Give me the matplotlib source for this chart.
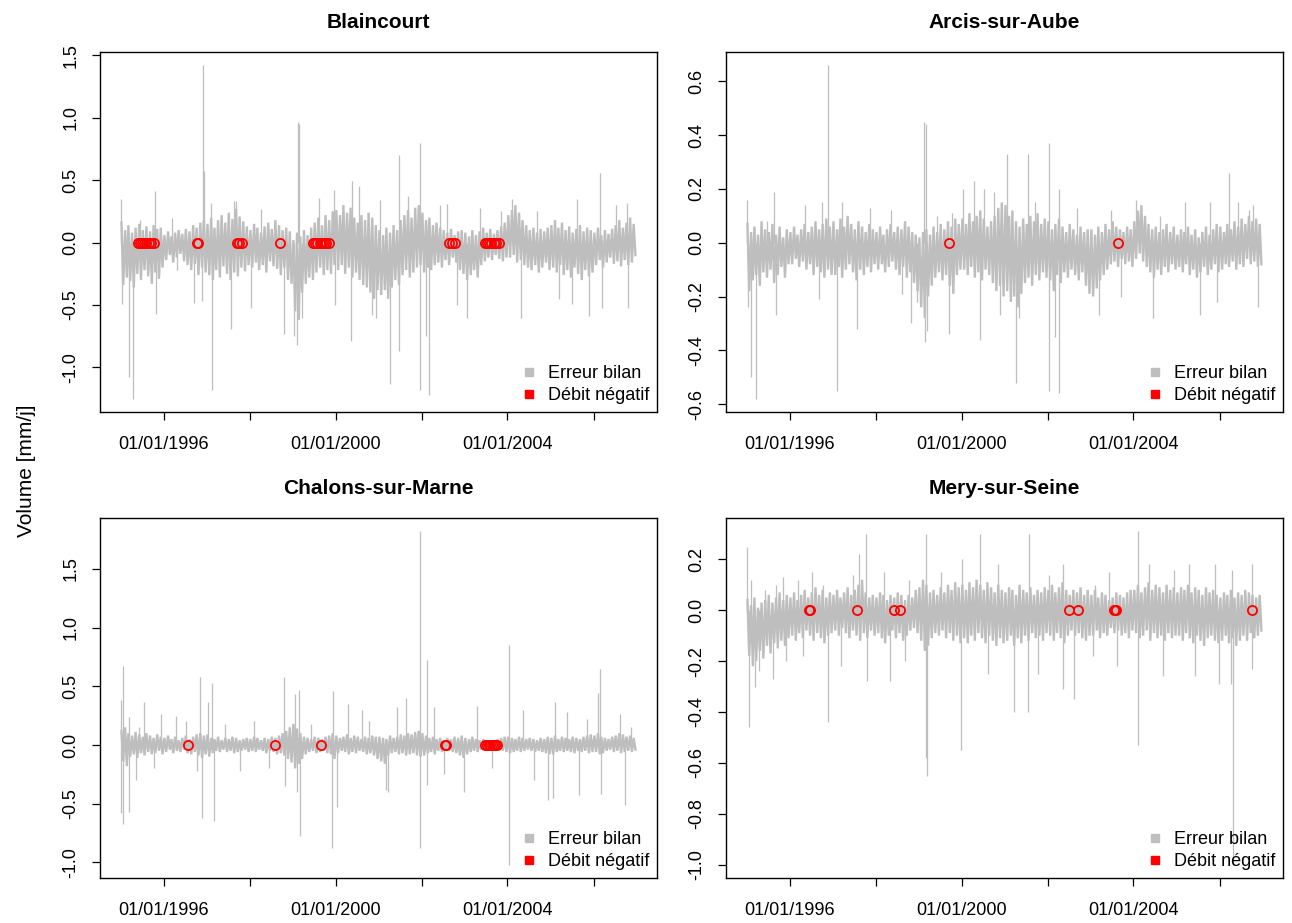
import numpy as np
import pandas as pd
import matplotlib
matplotlib.use("Agg")
import matplotlib.pyplot as plt
from matplotlib.lines import Line2D

plt.rcParams['font.family'] = ['Liberation Sans', 'DejaVu Sans']
plt.rcParams['axes.unicode_minus'] = False

# ---------------------------------------------------------------------------
# Daily balance error series, summarised as monthly upper / lower readings
# (12 values per year, 1995 -> 2006), plus isolated single-day peaks and the
# days with a negative discharge.
# ---------------------------------------------------------------------------
series_start = "1995-01-01"
series_end = "2006-12-31"
first_year = 1995

stations = ["Blaincourt", "Arcis-sur-Aube", "Chalons-sur-Marne", "Mery-sur-Seine"]

blaincourt_hi = [
    0.16, 0.10, 0.14, 0.08, 0.12, 0.15, 0.10, 0.13, 0.09, 0.14, 0.11, 0.12,
    0.06, 0.09, 0.05, 0.08, 0.10, 0.07, 0.11, 0.09, 0.14, 0.12, 0.16, 0.18,
    0.15, 0.20, 0.12, 0.18, 0.22, 0.16, 0.24, 0.19, 0.27, 0.21, 0.17, 0.13,
    0.10, 0.15, 0.12, 0.08, 0.13, 0.16, 0.11, 0.18, 0.14, 0.10, 0.12, 0.09,
    0.02, 0.08, 0.05, 0.10, 0.06, 0.12, 0.16, 0.20, 0.14, 0.22, 0.18, 0.25,
    0.26, 0.22, 0.30, 0.24, 0.28, 0.20, 0.16, 0.22, 0.18, 0.24, 0.20, 0.14,
    0.10, 0.06, 0.12, 0.08, 0.14, 0.10, 0.18, 0.22, 0.26, 0.20, 0.28, 0.30,
    0.24, 0.18, 0.20, 0.14, 0.16, 0.12, 0.10, 0.08, 0.11, 0.06, 0.09, 0.10,
    0.08, 0.05, 0.10, 0.06, 0.09, 0.12, 0.08, 0.11, 0.07, 0.10, 0.13, 0.16,
    0.22, 0.26, 0.30, 0.24, 0.18, 0.14, 0.10, 0.12, 0.08, 0.11, 0.09, 0.12,
    0.14, 0.18, 0.12, 0.16, 0.10, 0.13, 0.08, 0.11, 0.14, 0.09, 0.12, 0.10,
    0.08, 0.12, 0.06, 0.10, 0.07, 0.11, 0.14, 0.18, 0.12, 0.16, 0.20, 0.15,
]
blaincourt_lo = [
    -0.34, -0.28, -0.31, -0.36, -0.25, -0.30, -0.22, -0.27, -0.33, -0.24, -0.29, -0.20,
    -0.14, -0.10, -0.16, -0.12, -0.09, -0.15, -0.18, -0.22, -0.17, -0.26, -0.20, -0.24,
    -0.26, -0.30, -0.22, -0.28, -0.19, -0.25, -0.30, -0.24, -0.27, -0.20, -0.23, -0.18,
    -0.20, -0.16, -0.22, -0.18, -0.24, -0.15, -0.19, -0.21, -0.26, -0.20, -0.30, -0.33,
    -0.55, -0.62, -0.40, -0.33, -0.28, -0.30, -0.24, -0.20, -0.26, -0.22, -0.25, -0.18,
    -0.22, -0.18, -0.25, -0.20, -0.28, -0.24, -0.30, -0.34, -0.36, -0.40, -0.45, -0.38,
    -0.42, -0.38, -0.45, -0.36, -0.30, -0.34, -0.26, -0.22, -0.28, -0.24, -0.20, -0.18,
    -0.24, -0.20, -0.22, -0.18, -0.16, -0.20, -0.14, -0.18, -0.12, -0.16, -0.22, -0.25,
    -0.30, -0.26, -0.22, -0.28, -0.18, -0.15, -0.12, -0.14, -0.10, -0.13, -0.15, -0.12,
    -0.12, -0.10, -0.16, -0.14, -0.18, -0.20, -0.22, -0.18, -0.24, -0.20, -0.16, -0.22,
    -0.20, -0.24, -0.18, -0.26, -0.22, -0.28, -0.20, -0.25, -0.30, -0.22, -0.27, -0.24,
    -0.18, -0.14, -0.20, -0.16, -0.12, -0.17, -0.15, -0.19, -0.14, -0.18, -0.16, -0.10,
]
blaincourt_peak_dates = [
    "1995-01-05", "1995-01-10", "1995-03-10", "1995-04-20", "1995-06-15", "1995-10-20",
    "1995-10-25", "1996-03-10", "1996-04-20", "1996-09-15", "1996-12-01", "1996-12-12",
    "1996-11-20", "1997-02-18", "1997-02-05", "1997-07-25", "1997-08-20", "1997-09-10",
    "1998-01-15", "1998-04-10", "1998-10-20", "1999-01-15", "1999-02-10", "1999-02-15",
    "1999-02-25", "1999-03-20", "1999-08-15", "1999-12-20", "1999-12-25", "2000-05-20",
    "2000-05-15", "2000-07-15", "2000-11-10", "2000-12-10", "2001-01-10", "2001-04-10",
    "2001-06-25", "2001-06-20", "2001-09-10", "2001-12-20", "2001-12-18", "2002-02-05",
    "2002-03-05", "2002-06-10", "2002-10-25", "2002-08-05", "2003-01-20", "2003-05-10",
    "2003-11-10", "2004-02-10", "2004-04-25", "2004-09-10", "2005-03-10", "2005-07-01",
    "2005-08-10", "2005-11-20", "2006-03-01", "2006-03-10", "2006-07-10", "2006-10-15",
    "2006-10-20",
]
blaincourt_peak_vals = [
    0.35, -0.49, -1.08, -1.25, 0.18, 0.41,
    -0.57, 0.20, -0.22, -0.48, 1.42, 0.57,
    -0.47, -1.18, 0.32, -0.69, 0.33, 0.33,
    -0.52, 0.27, -0.73, -0.75, -0.82, 0.97,
    0.95, -0.60, 0.36, 0.42, -0.50, 0.49,
    -0.79, 0.45, -0.58, -0.60, 0.34, -1.13,
    0.70, -0.87, 0.37, 0.80, -1.18, -0.75,
    -1.22, 0.30, -0.50, 0.31, -0.60, 0.28,
    0.25, 0.35, -0.60, 0.25, -0.45, -0.49,
    0.35, -0.59, 0.56, -0.52, 0.30, 0.32,
    -0.52,
]
blaincourt_neg_dates = [
    "1995-05-27", "1995-06-14", "1995-07-02", "1995-07-20", "1995-08-08", "1995-08-26",
    "1995-09-20", "1995-10-12", "1996-10-12", "1996-10-23", "1997-09-16", "1997-10-04",
    "1997-10-26", "1998-09-13", "1999-06-25", "1999-07-13", "1999-07-31", "1999-08-18",
    "1999-09-06", "1999-09-24", "1999-10-12", "1999-11-03", "2002-08-22", "2002-09-13",
    "2002-10-12", "2003-06-21", "2003-07-09", "2003-07-27", "2003-08-15", "2003-09-06",
    "2003-09-28", "2003-10-20",
]

arcis_hi = [
    0.07, 0.04, 0.06, 0.03, 0.08, 0.05, 0.04, 0.07, 0.03, 0.06, 0.02, 0.05,
    0.04, 0.06, 0.03, 0.05, 0.07, 0.04, 0.06, 0.08, 0.05, 0.07, 0.09, 0.06,
    0.08, 0.05, 0.09, 0.06, 0.10, 0.07, 0.05, 0.08, 0.06, 0.04, 0.07, 0.05,
    0.04, 0.06, 0.03, 0.05, 0.07, 0.04, 0.06, 0.05, 0.08, 0.06, 0.04, 0.03,
    0.02, 0.04, 0.05, 0.03, 0.06, 0.04, 0.07, 0.05, 0.08, 0.06, 0.09, 0.07,
    0.09, 0.07, 0.11, 0.08, 0.10, 0.12, 0.09, 0.06, 0.08, 0.10, 0.13, 0.15,
    0.14, 0.10, 0.12, 0.08, 0.06, 0.09, 0.07, 0.10, 0.08, 0.11, 0.07, 0.09,
    0.08, 0.05, 0.07, 0.09, 0.06, 0.04, 0.07, 0.05, 0.03, 0.06, 0.04, 0.05,
    0.05, 0.03, 0.06, 0.04, 0.07, 0.05, 0.08, 0.06, 0.05, 0.04, 0.06, 0.05,
    0.08, 0.12, 0.14, 0.10, 0.07, 0.05, 0.06, 0.04, 0.05, 0.07, 0.04, 0.06,
    0.03, 0.05, 0.04, 0.06, 0.03, 0.05, 0.02, 0.04, 0.06, 0.03, 0.05, 0.07,
    0.06, 0.04, 0.07, 0.05, 0.08, 0.06, 0.09, 0.07, 0.10, 0.08, 0.09, 0.07,
]
arcis_lo = [
    -0.18, -0.14, -0.12, -0.16, -0.11, -0.13, -0.10, -0.15, -0.12, -0.09, -0.13, -0.08,
    -0.08, -0.06, -0.09, -0.07, -0.10, -0.08, -0.12, -0.09, -0.11, -0.13, -0.10, -0.12,
    -0.12, -0.09, -0.13, -0.10, -0.08, -0.11, -0.14, -0.10, -0.12, -0.09, -0.11, -0.08,
    -0.10, -0.08, -0.11, -0.09, -0.07, -0.10, -0.12, -0.09, -0.13, -0.11, -0.15, -0.18,
    -0.24, -0.28, -0.20, -0.16, -0.13, -0.11, -0.14, -0.12, -0.16, -0.19, -0.12, -0.10,
    -0.10, -0.12, -0.09, -0.13, -0.11, -0.14, -0.10, -0.12, -0.15, -0.18, -0.16, -0.20,
    -0.18, -0.22, -0.20, -0.24, -0.19, -0.15, -0.13, -0.16, -0.12, -0.14, -0.11, -0.13,
    -0.14, -0.18, -0.12, -0.15, -0.11, -0.13, -0.10, -0.12, -0.14, -0.11, -0.16, -0.19,
    -0.20, -0.17, -0.14, -0.12, -0.10, -0.08, -0.07, -0.09, -0.06, -0.08, -0.07, -0.09,
    -0.06, -0.04, -0.07, -0.09, -0.11, -0.13, -0.10, -0.12, -0.09, -0.11, -0.08, -0.10,
    -0.09, -0.11, -0.08, -0.12, -0.10, -0.13, -0.11, -0.09, -0.12, -0.10, -0.08, -0.11,
    -0.10, -0.08, -0.09, -0.07, -0.10, -0.08, -0.09, -0.06, -0.08, -0.07, -0.09, -0.08,
]
arcis_peak_dates = [
    "1995-01-05", "1995-01-10", "1995-02-05", "1995-03-25", "1995-06-20", "1995-08-20",
    "1995-09-05", "1996-05-10", "1996-09-10", "1996-11-20", "1996-10-01", "1997-02-05",
    "1997-03-20", "1997-07-25", "1997-11-10", "1998-05-10", "1998-08-10", "1998-10-25",
    "1998-12-15", "1999-02-20", "1999-03-01", "1999-02-25", "1999-03-10", "1999-06-10",
    "1999-09-20", "1999-10-10", "2000-01-15", "2000-04-20", "2000-06-10", "2000-07-10",
    "2000-10-05", "2000-11-20", "2001-01-20", "2001-04-10", "2001-05-05", "2001-07-15",
    "2001-09-20", "2002-01-10", "2002-01-12", "2002-04-05", "2002-03-01", "2002-04-10",
    "2002-09-10", "2003-03-15", "2003-06-20", "2003-09-15", "2004-01-20", "2004-06-15",
    "2004-08-10", "2005-03-10", "2005-07-20", "2005-10-10", "2005-12-10", "2006-03-25",
    "2006-06-10", "2006-09-10", "2006-11-20", "2006-10-15",
]
arcis_peak_vals = [
    0.16, -0.24, -0.50, -0.58, 0.08, 0.19,
    -0.27, 0.14, -0.21, 0.66, 0.15, -0.55,
    0.15, -0.32, 0.13, 0.12, -0.19, -0.30,
    -0.22, 0.45, 0.44, -0.37, -0.33, 0.10,
    -0.34, 0.11, 0.20, 0.23, -0.36, 0.20,
    0.19, -0.27, 0.33, -0.52, -0.28, 0.33,
    0.15, 0.37, -0.55, -0.56, -0.35, 0.20,
    0.13, -0.27, 0.12, -0.20, 0.16, -0.28,
    0.10, 0.15, -0.27, 0.15, -0.22, 0.26,
    0.15, 0.12, -0.24, 0.14,
]
arcis_neg_dates = ["1999-09-20", "2003-08-25"]

chalons_hi = [
    0.12, 0.15, 0.10, 0.08, 0.11, 0.09, 0.07, 0.10, 0.08, 0.06, 0.09, 0.07,
    0.06, 0.08, 0.05, 0.07, 0.04, 0.06, 0.08, 0.05, 0.07, 0.09, 0.10, 0.08,
    0.09, 0.06, 0.05, 0.07, 0.04, 0.06, 0.05, 0.07, 0.06, 0.04, 0.05, 0.06,
    0.05, 0.07, 0.06, 0.04, 0.06, 0.05, 0.07, 0.06, 0.08, 0.10, 0.12, 0.15,
    0.18, 0.14, 0.10, 0.07, 0.06, 0.05, 0.07, 0.06, 0.05, 0.07, 0.08, 0.10,
    0.08, 0.06, 0.07, 0.09, 0.06, 0.08, 0.07, 0.05, 0.07, 0.06, 0.08, 0.07,
    0.07, 0.06, 0.05, 0.08, 0.06, 0.07, 0.09, 0.08, 0.10, 0.09, 0.11, 0.12,
    0.10, 0.08, 0.06, 0.07, 0.05, 0.06, 0.04, 0.06, 0.05, 0.07, 0.06, 0.08,
    0.06, 0.05, 0.07, 0.05, 0.04, 0.05, 0.04, 0.03, 0.04, 0.05, 0.06, 0.07,
    0.07, 0.06, 0.05, 0.07, 0.06, 0.05, 0.06, 0.05, 0.04, 0.06, 0.05, 0.07,
    0.06, 0.08, 0.05, 0.07, 0.06, 0.05, 0.07, 0.06, 0.05, 0.07, 0.08, 0.09,
    0.08, 0.10, 0.07, 0.06, 0.05, 0.07, 0.08, 0.10, 0.09, 0.07, 0.08, 0.06,
]
chalons_lo = [
    -0.14, -0.18, -0.10, -0.08, -0.11, -0.07, -0.09, -0.06, -0.08, -0.07, -0.05, -0.08,
    -0.06, -0.04, -0.07, -0.05, -0.06, -0.04, -0.07, -0.08, -0.06, -0.09, -0.11, -0.08,
    -0.10, -0.07, -0.05, -0.06, -0.04, -0.06, -0.05, -0.07, -0.06, -0.05, -0.04, -0.06,
    -0.05, -0.06, -0.04, -0.05, -0.07, -0.05, -0.06, -0.08, -0.07, -0.09, -0.12, -0.15,
    -0.20, -0.16, -0.12, -0.08, -0.06, -0.05, -0.07, -0.06, -0.05, -0.07, -0.08, -0.12,
    -0.07, -0.05, -0.06, -0.08, -0.06, -0.07, -0.05, -0.06, -0.08, -0.07, -0.09, -0.12,
    -0.14, -0.16, -0.09, -0.07, -0.06, -0.08, -0.07, -0.09, -0.08, -0.07, -0.09, -0.10,
    -0.09, -0.07, -0.06, -0.08, -0.05, -0.06, -0.04, -0.05, -0.06, -0.07, -0.09, -0.11,
    -0.08, -0.06, -0.05, -0.06, -0.04, -0.03, -0.03, -0.04, -0.03, -0.04, -0.05, -0.06,
    -0.07, -0.06, -0.05, -0.06, -0.05, -0.04, -0.05, -0.06, -0.05, -0.06, -0.07, -0.08,
    -0.08, -0.06, -0.05, -0.06, -0.05, -0.06, -0.07, -0.05, -0.06, -0.05, -0.07, -0.06,
    -0.06, -0.08, -0.07, -0.05, -0.04, -0.06, -0.05, -0.07, -0.06, -0.05, -0.06, -0.04,
]
chalons_peak_dates = [
    "1995-01-05", "1995-01-03", "1995-01-20", "1995-01-22", "1995-03-10", "1995-03-15",
    "1995-05-10", "1995-07-15", "1995-06-10", "1995-10-10", "1995-12-10", "1996-04-15",
    "1996-07-10", "1996-10-10", "1996-11-05", "1996-11-25", "1997-01-10", "1997-02-15",
    "1997-03-01", "1997-06-10", "1997-10-10", "1998-02-10", "1998-06-15", "1998-10-20",
    "1998-10-25", "1999-01-20", "1999-02-25", "1999-03-01", "1999-02-05", "1999-06-10",
    "1999-12-10", "1999-12-05", "2000-01-10", "2000-04-20", "2000-08-10", "2000-10-15",
    "2001-03-05", "2001-03-20", "2001-06-10", "2001-08-25", "2001-12-20", "2001-12-22",
    "2002-02-15", "2002-02-20", "2002-04-15", "2002-07-10", "2002-12-28", "2003-04-15",
    "2003-08-20", "2004-01-10", "2004-01-12", "2004-05-10", "2004-08-10", "2004-12-10",
    "2005-01-20", "2005-02-10", "2005-05-20", "2005-09-01", "2005-11-10", "2006-02-05",
    "2006-03-01", "2006-03-05", "2006-08-10", "2006-09-25", "2006-11-15",
]
chalons_peak_vals = [
    0.38, -0.58, 0.67, -0.67, -0.57, 0.24,
    -0.30, 0.37, 0.15, -0.20, 0.26, 0.25,
    0.20, -0.22, 0.58, -0.62, 0.37, 0.53,
    -0.65, 0.18, -0.22, 0.20, -0.20, 0.58,
    -0.35, 0.43, 0.47, -0.78, -0.40, 0.18,
    0.46, -0.88, -0.53, 0.35, 0.30, 0.20,
    -0.38, -0.40, 0.32, 0.40, 1.82, -0.88,
    0.72, -0.34, 0.32, -0.25, -0.40, 0.33,
    -0.20, 0.85, -1.02, 0.30, -0.30, -0.47,
    -0.45, 0.37, 0.28, -0.43, 0.22, 0.44,
    0.65, -0.42, 0.26, -0.51, 0.15,
]
chalons_neg_dates = [
    "1996-07-27", "1998-08-04", "1999-08-29", "2002-07-20", "2002-07-31", "2003-06-25",
    "2003-07-09", "2003-07-24", "2003-08-08", "2003-08-22", "2003-09-06", "2003-09-20",
    "2003-10-05",
]

mery_hi = [
    0.04, 0.02, 0.05, 0.01, 0.03, 0.04, 0.06, 0.03, 0.05, 0.07, 0.04, 0.06,
    0.05, 0.07, 0.04, 0.06, 0.08, 0.05, 0.07, 0.09, 0.06, 0.08, 0.05, 0.07,
    0.06, 0.08, 0.05, 0.07, 0.09, 0.06, 0.08, 0.10, 0.12, 0.07, 0.05, 0.06,
    0.05, 0.07, 0.06, 0.04, 0.06, 0.05, 0.07, 0.06, 0.04, 0.06, 0.05, 0.08,
    0.09, 0.12, 0.10, 0.07, 0.08, 0.06, 0.09, 0.07, 0.10, 0.08, 0.11, 0.09,
    0.10, 0.08, 0.11, 0.09, 0.12, 0.10, 0.08, 0.11, 0.09, 0.07, 0.10, 0.08,
    0.07, 0.09, 0.08, 0.06, 0.10, 0.08, 0.07, 0.09, 0.06, 0.08, 0.07, 0.09,
    0.08, 0.10, 0.07, 0.09, 0.11, 0.08, 0.06, 0.08, 0.07, 0.09, 0.06, 0.08,
    0.06, 0.08, 0.05, 0.07, 0.06, 0.04, 0.05, 0.07, 0.06, 0.05, 0.07, 0.08,
    0.08, 0.10, 0.07, 0.09, 0.11, 0.08, 0.10, 0.09, 0.07, 0.10, 0.08, 0.09,
    0.07, 0.09, 0.08, 0.10, 0.07, 0.09, 0.08, 0.06, 0.09, 0.07, 0.08, 0.06,
    0.05, 0.07, 0.06, 0.08, 0.05, 0.07, 0.06, 0.08, 0.07, 0.06, 0.05, 0.06,
]
mery_lo = [
    -0.18, -0.22, -0.20, -0.16, -0.19, -0.14, -0.17, -0.13, -0.15, -0.12, -0.14, -0.11,
    -0.10, -0.12, -0.09, -0.11, -0.08, -0.10, -0.12, -0.09, -0.11, -0.13, -0.10, -0.09,
    -0.08, -0.10, -0.07, -0.09, -0.11, -0.08, -0.10, -0.12, -0.09, -0.11, -0.08, -0.10,
    -0.09, -0.11, -0.13, -0.10, -0.08, -0.11, -0.09, -0.12, -0.10, -0.08, -0.07, -0.09,
    -0.12, -0.16, -0.14, -0.11, -0.09, -0.10, -0.08, -0.11, -0.09, -0.12, -0.10, -0.13,
    -0.11, -0.13, -0.10, -0.12, -0.09, -0.11, -0.13, -0.10, -0.12, -0.14, -0.11, -0.13,
    -0.12, -0.10, -0.14, -0.11, -0.13, -0.10, -0.12, -0.09, -0.11, -0.10, -0.12, -0.09,
    -0.10, -0.12, -0.09, -0.11, -0.13, -0.10, -0.08, -0.10, -0.09, -0.11, -0.12, -0.10,
    -0.10, -0.08, -0.11, -0.09, -0.10, -0.07, -0.09, -0.08, -0.10, -0.09, -0.11, -0.08,
    -0.09, -0.11, -0.10, -0.08, -0.12, -0.09, -0.11, -0.10, -0.12, -0.09, -0.11, -0.10,
    -0.10, -0.12, -0.09, -0.11, -0.13, -0.10, -0.12, -0.14, -0.11, -0.10, -0.12, -0.13,
    -0.12, -0.10, -0.13, -0.11, -0.14, -0.12, -0.10, -0.12, -0.09, -0.11, -0.10, -0.08,
]
mery_peak_dates = [
    "1995-01-05", "1995-01-20", "1995-02-10", "1995-03-10", "1995-04-15", "1995-06-10",
    "1995-08-15", "1995-09-10", "1995-11-10", "1995-12-01", "1996-03-10", "1996-04-20",
    "1996-07-10", "1996-11-20", "1996-10-10", "1997-03-10", "1997-06-20", "1997-10-15",
    "1997-10-20", "1997-08-10", "1998-05-05", "1998-03-10", "1998-10-10", "1998-09-10",
    "1999-03-05", "1999-03-10", "1999-03-01", "1999-07-10", "1999-12-28", "2000-01-05",
    "2000-06-05", "2000-08-10", "2000-11-10", "2001-03-25", "2001-07-20", "2001-07-25",
    "2001-10-10", "2002-01-15", "2002-05-10", "2002-05-15", "2002-08-10", "2003-01-20",
    "2003-02-05", "2003-06-10", "2003-08-10", "2004-02-05", "2004-02-06", "2004-05-10",
    "2004-09-10", "2004-12-10", "2005-04-15", "2005-06-10", "2005-11-20", "2005-12-28",
    "2006-04-28", "2006-04-10", "2006-04-20", "2006-10-01", "2006-10-05",
]
mery_peak_vals = [
    0.25, -0.46, 0.12, -0.30, -0.24, 0.08,
    -0.27, 0.10, 0.13, -0.20, 0.12, -0.18,
    0.15, -0.44, 0.10, -0.22, 0.14, 0.30,
    -0.28, 0.22, -0.28, 0.15, 0.12, -0.20,
    0.30, -0.65, -0.58, 0.15, -0.55, 0.20,
    0.30, -0.25, 0.18, -0.40, -0.40, 0.30,
    -0.25, 0.14, -0.31, 0.18, -0.35, -0.18,
    0.10, 0.15, -0.22, 0.31, -0.53, 0.18,
    -0.26, 0.16, 0.18, -0.26, 0.18, -0.29,
    -1.00, -0.29, 0.16, 0.18, -0.23,
]
mery_neg_dates = [
    "1996-06-13", "1996-06-24", "1997-07-23", "1998-06-10", "1998-07-31", "2002-06-28",
    "2002-09-20", "2003-07-17", "2003-07-28", "2003-08-08", "2006-10-01",
]

y_ticks = [
    [-1.0, -0.5, 0.0, 0.5, 1.0, 1.5],
    [-0.6, -0.4, -0.2, 0.0, 0.2, 0.4, 0.6],
    [-1.0, -0.5, 0.0, 0.5, 1.0, 1.5],
    [-1.0, -0.8, -0.6, -0.4, -0.2, 0.0, 0.2],
]
x_tick_years = [1996, 1998, 2000, 2002, 2004, 2006]
x_tick_labels = ["01/01/1996", "", "01/01/2000", "", "01/01/2004", ""]

legend_labels = ["Erreur bilan", "Débit négatif"]
ylabel = "Volume [mm/j]"

GREY = "#BEBEBE"
RED = "#FF0000"


def monthly_trace(hi, lo):
    """Alternate the upper and lower monthly readings into one dated line."""
    t, v = [], []
    for i, (h, l) in enumerate(zip(hi, lo)):
        year = first_year + i // 12
        month = i % 12 + 1
        t += [pd.Timestamp(year, month, 8), pd.Timestamp(year, month, 23)]
        v += [h, l]
    return pd.to_datetime(t), np.array(v)


def padded(lo, hi, frac=0.04):
    span = hi - lo
    return lo - frac * span, hi + frac * span


series = [
    (blaincourt_hi, blaincourt_lo, blaincourt_peak_dates, blaincourt_peak_vals, blaincourt_neg_dates),
    (arcis_hi, arcis_lo, arcis_peak_dates, arcis_peak_vals, arcis_neg_dates),
    (chalons_hi, chalons_lo, chalons_peak_dates, chalons_peak_vals, chalons_neg_dates),
    (mery_hi, mery_lo, mery_peak_dates, mery_peak_vals, mery_neg_dates),
]

W, H = 1292, 923
fig = plt.figure(figsize=(W / 100, H / 100), dpi=100)

# panel boxes in pixels: left, top, right, bottom
boxes = [
    (100, 52, 657, 412),
    (726, 52, 1283, 412),
    (100, 518, 657, 878),
    (726, 518, 1283, 878),
]

t0 = pd.Timestamp(series_start)
t1 = pd.Timestamp(series_end)
span_days = (t1 - t0).days
x_lo = t0 - pd.Timedelta(days=0.04 * span_days)
x_hi = t1 + pd.Timedelta(days=0.04 * span_days)

for k, (name, (hi, lo, pk_d, pk_v, neg_d), yt, box) in enumerate(zip(stations, series, y_ticks, boxes)):
    l, t, r, b = box
    ax = fig.add_axes([l / W, 1 - b / H, (r - l) / W, (b - t) / H])

    tt, vv = monthly_trace(hi, lo)
    ax.plot(tt, vv, color=GREY, lw=1.7, zorder=2, solid_joinstyle="miter")
    pk_t = pd.to_datetime(pk_d)
    ax.vlines(pk_t, 0.0, pk_v, color=GREY, lw=0.9, zorder=2)

    neg_t = pd.to_datetime(neg_d)
    neg_v = np.zeros(len(neg_t))
    ax.plot(neg_t, neg_v, linestyle="none", marker="o", mfc="none", mec=RED,
            ms=6.6, mew=1.3, zorder=3)

    all_vals = np.concatenate([vv, np.asarray(pk_v)])
    ax.set_ylim(*padded(all_vals.min(), all_vals.max()))
    ax.set_xlim(x_lo, x_hi)

    ax.set_xticks([pd.Timestamp(y, 1, 1) for y in x_tick_years])
    ax.set_xticklabels(x_tick_labels)
    ax.set_yticks(yt)
    ax.set_yticklabels([f"{v:.1f}" for v in yt], rotation=90, va="center")

    ax.tick_params(axis="both", direction="out", length=6, width=0.9,
                   labelsize=13, color="black")
    ax.tick_params(axis="x", pad=11)
    ax.tick_params(axis="y", pad=9)
    for s in ax.spines.values():
        s.set_linewidth(1.0)
        s.set_color("black")

    ax.set_title(name, fontsize=15, fontweight="bold", pad=17)

    handles = [
        Line2D([], [], linestyle="none", marker="s", color=GREY, markersize=5.5),
        Line2D([], [], linestyle="none", marker="s", color=RED, markersize=5.5),
    ]
    ax.legend(handles, legend_labels, loc="lower right", frameon=False, fontsize=13,
              handlelength=0.8, handletextpad=0.6, labelspacing=0.25,
              borderaxespad=0.15, borderpad=0.3)

fig.text(27 / W, 1 - 471 / H, ylabel, rotation=90, ha="center", va="center", fontsize=15)

fig.savefig("out.png", dpi=100)
